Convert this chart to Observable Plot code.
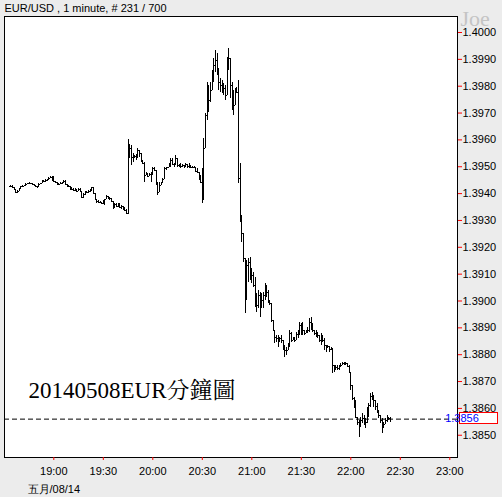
<!DOCTYPE html>
<html><head><meta charset="utf-8">
<script src="https://cdn.jsdelivr.net/npm/d3@7"></script>
<script src="https://cdn.jsdelivr.net/npm/@observablehq/plot@0.6"></script>
<style>
html,body{margin:0;padding:0;background:#ececec;}
#chart svg{display:block;}
</style>
</head><body><div id="chart"></div>
<script>
const title = "EUR/USD , 1 minute, # 231 / 700";
const watermark = "Joe";
const caption = "20140508EUR分鐘圖";
const dateLabel = "五月/08/14";
const sessionDate = "2014-05-08";
const firstBarTime = "18:34";
const xTickLabels = ["19:00","19:30","20:00","20:30","21:00","21:30","22:00","22:30","23:00"];
const yTickValues = [1.3850,1.3860,1.3870,1.3880,1.3890,1.3900,1.3910,1.3920,1.3930,1.3940,1.3950,1.3960,1.3970,1.3980,1.3990,1.4000];
const lastPrice = 1.3856;

const high = [
1.39430,1.39430,1.39423,1.39415,1.39412,1.39419,1.39427,1.39430,1.39430,1.39438,
1.39438,1.39441,1.39438,1.39438,1.39434,1.39430,1.39427,1.39438,1.39438,1.39449,
1.39449,1.39453,1.39453,1.39460,1.39464,1.39464,1.39464,1.39445,1.39441,1.39438,
1.39441,1.39441,1.39449,1.39449,1.39434,1.39430,1.39427,1.39423,1.39419,1.39419,
1.39415,1.39419,1.39419,1.39408,1.39400,1.39408,1.39408,1.39412,1.39415,1.39423,
1.39423,1.39400,1.39378,1.39374,1.39371,1.39367,1.39374,1.39378,1.39393,1.39389,
1.39386,1.39382,1.39371,1.39363,1.39363,1.39363,1.39363,1.39356,1.39352,1.39348,
1.39341,1.39602,1.39583,1.39579,1.39549,1.39542,1.39546,1.39568,1.39561,1.39542,
1.39516,1.39516,1.39479,1.39475,1.39475,1.39479,1.39497,1.39497,1.39467,1.39441,
1.39441,1.39441,1.39456,1.39497,1.39497,1.39497,1.39512,1.39531,1.39531,1.39512,
1.39542,1.39531,1.39508,1.39512,1.39508,1.39505,1.39512,1.39508,1.39512,1.39505,
1.39501,1.39501,1.39497,1.39494,1.39479,1.39467,1.39494,1.39605,1.39698,1.39814,
1.39803,1.39814,1.39858,1.39903,1.39933,1.39922,1.39866,1.39829,1.39821,1.39810,
1.39803,1.39907,1.39940,1.39888,1.39814,1.39784,1.39791,1.39795,1.39821,1.39512,
1.39281,1.39170,1.39140,1.39151,1.39158,1.39162,1.39114,1.39106,1.39088,1.39028,
1.39039,1.39032,1.39028,1.39032,1.39065,1.39058,1.39039,1.39002,1.38972,1.38920,
1.38890,1.38872,1.38872,1.38864,1.38872,1.38853,1.38834,1.38827,1.38842,1.38890,
1.38883,1.38864,1.38864,1.38883,1.38890,1.38920,1.38916,1.38920,1.38890,1.38890,
1.38901,1.38935,1.38939,1.38916,1.38890,1.38890,1.38883,1.38872,1.38879,1.38872,
1.38860,1.38834,1.38834,1.38831,1.38827,1.38823,1.38760,1.38760,1.38760,1.38760,
1.38767,1.38771,1.38771,1.38771,1.38767,1.38760,1.38730,1.38667,1.38641,1.38630,
1.38563,1.38555,1.38566,1.38581,1.38574,1.38563,1.38603,1.38618,1.38656,1.38659,
1.38641,1.38622,1.38618,1.38592,1.38566,1.38563,1.38548,1.38563,1.38574,1.38566,
1.38566];
const low = [
1.39423,1.39423,1.39415,1.39400,1.39400,1.39408,1.39415,1.39423,1.39427,1.39427,
1.39434,1.39434,1.39434,1.39430,1.39427,1.39423,1.39419,1.39423,1.39434,1.39438,
1.39441,1.39441,1.39445,1.39449,1.39456,1.39445,1.39441,1.39438,1.39434,1.39430,
1.39434,1.39434,1.39438,1.39430,1.39423,1.39427,1.39412,1.39412,1.39408,1.39408,
1.39404,1.39408,1.39404,1.39382,1.39382,1.39393,1.39400,1.39400,1.39404,1.39408,
1.39400,1.39374,1.39363,1.39363,1.39363,1.39359,1.39359,1.39356,1.39378,1.39378,
1.39374,1.39367,1.39341,1.39345,1.39348,1.39348,1.39345,1.39341,1.39337,1.39333,
1.39322,1.39322,1.39531,1.39505,1.39516,1.39531,1.39523,1.39531,1.39535,1.39516,
1.39512,1.39441,1.39467,1.39460,1.39467,1.39441,1.39467,1.39486,1.39430,1.39393,
1.39419,1.39438,1.39438,1.39475,1.39486,1.39494,1.39497,1.39497,1.39505,1.39497,
1.39505,1.39497,1.39497,1.39494,1.39497,1.39494,1.39497,1.39494,1.39494,1.39494,
1.39494,1.39494,1.39479,1.39475,1.39449,1.39438,1.39363,1.39374,1.39665,1.39672,
1.39702,1.39739,1.39803,1.39814,1.39851,1.39840,1.39784,1.39777,1.39773,1.39765,
1.39747,1.39765,1.39858,1.39754,1.39710,1.39691,1.39728,1.39773,1.39438,1.39292,
1.39218,1.39143,1.38954,1.39065,1.39069,1.39076,1.39065,1.39050,1.38976,1.38957,
1.38972,1.38939,1.38972,1.38972,1.39002,1.39013,1.38991,1.38983,1.38920,1.38890,
1.38842,1.38846,1.38827,1.38846,1.38842,1.38816,1.38790,1.38797,1.38816,1.38827,
1.38846,1.38853,1.38846,1.38860,1.38860,1.38872,1.38872,1.38872,1.38872,1.38879,
1.38879,1.38883,1.38890,1.38883,1.38872,1.38864,1.38860,1.38846,1.38834,1.38846,
1.38816,1.38808,1.38823,1.38808,1.38816,1.38730,1.38734,1.38741,1.38741,1.38741,
1.38752,1.38760,1.38760,1.38760,1.38752,1.38730,1.38667,1.38630,1.38600,1.38563,
1.38536,1.38492,1.38529,1.38544,1.38536,1.38525,1.38544,1.38566,1.38603,1.38630,
1.38603,1.38592,1.38581,1.38563,1.38544,1.38507,1.38529,1.38544,1.38548,1.38555,
1.38548];
const close = [
1.39427,1.39423,1.39415,1.39404,1.39408,1.39415,1.39427,1.39427,1.39430,1.39434,
1.39438,1.39438,1.39438,1.39434,1.39430,1.39427,1.39423,1.39434,1.39438,1.39445,
1.39445,1.39449,1.39449,1.39456,1.39460,1.39456,1.39445,1.39441,1.39434,1.39434,
1.39438,1.39438,1.39445,1.39434,1.39427,1.39427,1.39419,1.39415,1.39412,1.39415,
1.39408,1.39415,1.39408,1.39386,1.39397,1.39404,1.39404,1.39408,1.39412,1.39423,
1.39400,1.39378,1.39371,1.39367,1.39367,1.39363,1.39371,1.39378,1.39389,1.39382,
1.39382,1.39371,1.39345,1.39359,1.39352,1.39359,1.39348,1.39352,1.39345,1.39337,
1.39326,1.39579,1.39568,1.39535,1.39542,1.39538,1.39542,1.39561,1.39549,1.39523,
1.39512,1.39467,1.39471,1.39464,1.39471,1.39475,1.39494,1.39486,1.39441,1.39404,
1.39430,1.39438,1.39453,1.39494,1.39494,1.39497,1.39508,1.39523,1.39508,1.39505,
1.39531,1.39505,1.39505,1.39501,1.39505,1.39497,1.39508,1.39501,1.39505,1.39497,
1.39497,1.39497,1.39482,1.39479,1.39456,1.39441,1.39374,1.39568,1.39691,1.39784,
1.39747,1.39784,1.39840,1.39877,1.39896,1.39866,1.39814,1.39803,1.39791,1.39791,
1.39765,1.39896,1.39903,1.39803,1.39765,1.39728,1.39777,1.39777,1.39456,1.39318,
1.39251,1.39158,1.39002,1.39132,1.39143,1.39121,1.39095,1.39058,1.39002,1.38983,
1.39021,1.39002,1.39002,1.39021,1.39058,1.39032,1.38995,1.38991,1.38927,1.38890,
1.38864,1.38860,1.38853,1.38860,1.38853,1.38827,1.38816,1.38816,1.38834,1.38879,
1.38853,1.38860,1.38853,1.38875,1.38872,1.38909,1.38879,1.38890,1.38879,1.38883,
1.38890,1.38920,1.38909,1.38890,1.38879,1.38872,1.38872,1.38853,1.38868,1.38853,
1.38834,1.38823,1.38831,1.38820,1.38823,1.38760,1.38749,1.38752,1.38749,1.38756,
1.38760,1.38767,1.38764,1.38767,1.38756,1.38734,1.38685,1.38637,1.38611,1.38566,
1.38548,1.38536,1.38555,1.38563,1.38555,1.38548,1.38592,1.38611,1.38645,1.38648,
1.38630,1.38607,1.38592,1.38574,1.38555,1.38525,1.38540,1.38555,1.38563,1.38563,
1.38560];

const parseT = s => new Date(`${sessionDate}T${s}Z`);
const t0 = parseT(firstBarTime + ":00");
const bars = close.map((c, i) => {
  const o = i ? close[i - 1] : c;
  return {t: new Date(+t0 + i * 60000), o, c,
          h: Math.max(high[i], o, c), l: Math.min(low[i], o, c)};
});
const xTicks = xTickLabels.map(s => parseT(s + ":00"));
const half = 36000;

const sans = "'Liberation Sans', Arial, sans-serif";
const serif = "'Liberation Serif', 'Times New Roman', 'Noto Serif CJK TC', 'Noto Sans CJK TC', serif";

const plot = Plot.plot({
  width: 502,
  height: 497,
  marginLeft: 4,
  marginRight: 45,
  marginTop: 16,
  marginBottom: 40,
  style: {background: "#ececec", fontFamily: sans, fontSize: "11px", overflow: "visible"},
  x: {type: "utc", domain: [parseT("18:30:07"), parseT("23:04:40")], label: null},
  y: {domain: [1.384171, 1.400596], label: null},
  marks: [
    Plot.frame({fill: "white", stroke: "none"}),
    Plot.ruleY([lastPrice], {stroke: "black", strokeWidth: 1, strokeDasharray: "5,3"}),
    Plot.ruleX(bars, {x: "t", y1: "l", y2: "h", stroke: "black", strokeWidth: 1, shapeRendering: "crispEdges"}),
    Plot.ruleY(bars, {y: "o", x1: d => new Date(+d.t - half), x2: "t", stroke: "black", strokeWidth: 1, shapeRendering: "crispEdges"}),
    Plot.ruleY(bars, {y: "c", x1: "t", x2: d => new Date(+d.t + half), stroke: "black", strokeWidth: 1, shapeRendering: "crispEdges"}),
    Plot.frame({stroke: "black", strokeWidth: 1}),
    Plot.axisY(yTickValues, {anchor: "right", tickSize: 4, tickPadding: 1, tickFormat: d => d.toFixed(4),
      stroke: "red", fill: "black", label: null, fontSize: 11}),
    Plot.axisX(xTicks, {anchor: "bottom", tickSize: 3, tickPadding: 7, tickFormat: d3.utcFormat("%H:%M"),
      stroke: "red", fill: "black", label: null, fontSize: 11}),
    Plot.text([title], {text: d => d, frameAnchor: "top-left", dx: 0, dy: -8, textAnchor: "start",
      lineAnchor: "middle", fontSize: 11, fill: "black"}),
    Plot.text([watermark], {text: d => d, frameAnchor: "top-right", dx: 3, dy: 2, textAnchor: "start",
      lineAnchor: "middle", fontSize: 22, fontFamily: serif, fill: "#c4c4c4"}),
    Plot.text([caption], {text: d => d, frameAnchor: "left", dx: 24, dy: 154, textAnchor: "start",
      lineAnchor: "middle", fontSize: 23, fontFamily: serif, fill: "black"}),
    Plot.text([dateLabel], {text: d => d, frameAnchor: "bottom-left", dx: 23, dy: 31.5, textAnchor: "start",
      lineAnchor: "middle", fontSize: 11, fill: "black"})
  ]
});

// last price box on the right axis
const yPix = plot.scale("y").apply(lastPrice);
const svg = d3.select(plot);
const g = svg.append("g");
g.append("rect").attr("x", 459.5).attr("y", Math.round(yPix) - 6.5).attr("width", 38).attr("height", 11)
  .attr("fill", "white").attr("stroke", "red").attr("stroke-width", 1);
g.append("text").attr("x", 462).attr("y", yPix).attr("dy", "0.32em")
  .attr("fill", "blue").attr("font-size", 11).attr("font-family", sans).text(lastPrice.toFixed(4));

document.getElementById("chart").appendChild(plot);
</script>
</body></html>
